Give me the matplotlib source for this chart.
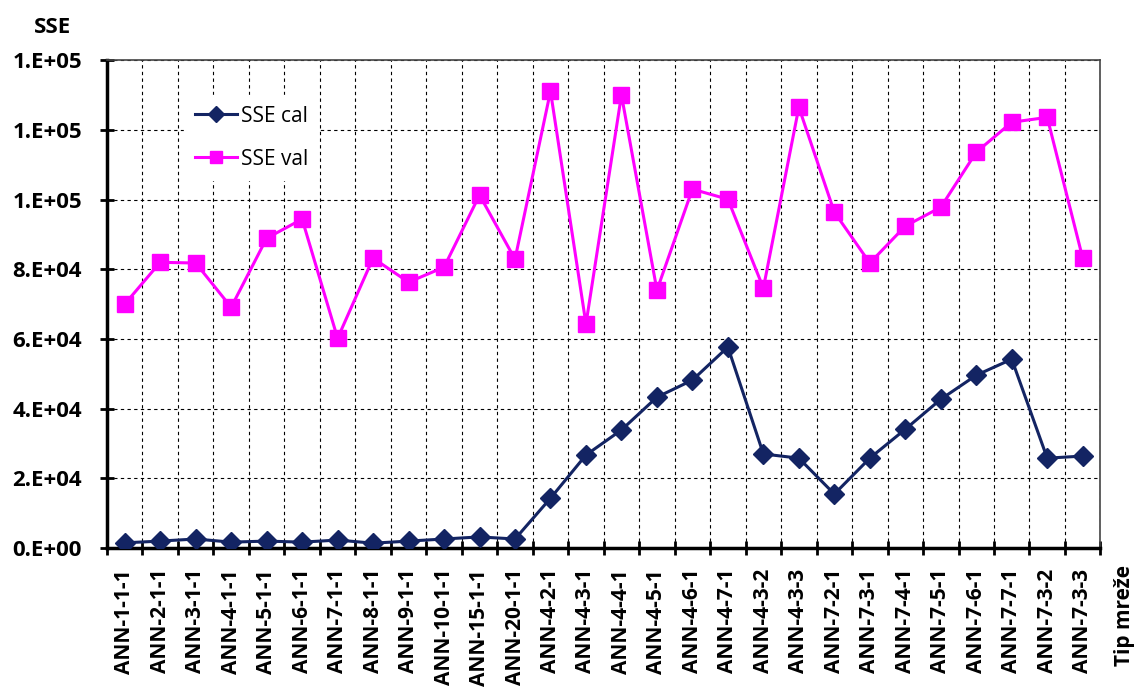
import matplotlib.pyplot as plt
import numpy as np
from matplotlib.ticker import FuncFormatter, FixedLocator

plt.rcParams['font.family'] = ['Open Sans', 'DejaVu Sans']

networks = ['ANN-1-1-1', 'ANN-2-1-1', 'ANN-3-1-1', 'ANN-4-1-1', 'ANN-5-1-1', 'ANN-6-1-1',
            'ANN-7-1-1', 'ANN-8-1-1', 'ANN-9-1-1', 'ANN-10-1-1', 'ANN-15-1-1', 'ANN-20-1-1',
            'ANN-4-2-1', 'ANN-4-3-1', 'ANN-4-4-1', 'ANN-4-5-1', 'ANN-4-6-1', 'ANN-4-7-1',
            'ANN-4-3-2', 'ANN-4-3-3', 'ANN-7-2-1', 'ANN-7-3-1', 'ANN-7-4-1', 'ANN-7-5-1',
            'ANN-7-6-1', 'ANN-7-7-1', 'ANN-7-3-2', 'ANN-7-3-3']

sse_cal = [1500, 2000, 2600, 1700, 2000, 1700, 2300, 1400, 2000, 2600, 3200, 2600,
           14300, 26700, 33900, 43300, 48200, 57700, 27000, 25800, 15500, 25800,
           34100, 42700, 49600, 54200, 25800, 26400]

sse_val = [70000, 82000, 81800, 69100, 88900, 94400, 60200, 83200, 76300, 80600,
           101300, 82900, 131100, 64300, 130000, 74000, 103000, 100100, 74600, 126500,
           96400, 81800, 92400, 97800, 113600, 122200, 123600, 83200]

x = np.arange(len(networks))

fig = plt.figure(figsize=(11.38, 6.92), dpi=100)
ax = fig.add_axes([0.094, 0.208, 0.873, 0.705])

ax.plot(x, sse_cal, color='#132463', lw=2.2, marker='D', ms=10, label='SSE cal', zorder=3)
ax.plot(x, sse_val, color='#ff00ff', lw=2.2, marker='s', ms=11, label='SSE val', zorder=3)

ax.set_xlim(-0.5, len(networks) - 0.5)
ax.set_ylim(0, 140000)
ax.set_yticks(np.arange(0, 140001, 20000))
# Excel-style "0.E+00" labels
ax.yaxis.set_major_formatter(FuncFormatter(lambda v, p: '{:.0E}'.format(v).replace('E', '.E')))

ax.set_xticks(x)
ax.set_xticklabels(networks, rotation=90)
ax.xaxis.set_minor_locator(FixedLocator(np.arange(-0.5, len(networks), 1)))
ax.tick_params(axis='x', which='major', length=0, pad=15)
ax.tick_params(axis='x', which='minor', length=10, width=2, direction='inout')
ax.tick_params(axis='y', which='major', length=10, width=2, direction='inout', pad=13)

for lab in ax.get_xticklabels():
    lab.set_fontsize(15)
    lab.set_fontweight('bold')
for lab in ax.get_yticklabels():
    lab.set_fontsize(16)
    lab.set_fontweight('bold')

ax.grid(True, axis='y', which='major', ls=(0, (3, 3)), color='black', lw=0.8)
ax.grid(True, axis='x', which='minor', ls=(0, (3, 3)), color='black', lw=0.8)

ax.spines['left'].set_linewidth(2.5)
ax.spines['bottom'].set_linewidth(2.5)
ax.spines['top'].set_linewidth(1.2)
ax.spines['right'].set_linewidth(1.2)
ax.spines['top'].set_color('#444444')
ax.spines['right'].set_color('#444444')

leg = ax.legend(loc='upper left', bbox_to_anchor=(0.078, 0.928), frameon=True, fontsize=15,
                handlelength=2.0, labelspacing=1.05, borderpad=0.5, borderaxespad=0,
                markerscale=0.85, handletextpad=0.2)
leg.get_frame().set_edgecolor('white')
leg.get_frame().set_facecolor('white')
leg.get_frame().set_alpha(1)
leg.get_frame().set_boxstyle('square', pad=0)

fig.text(0.0466, 0.952, 'SSE', fontsize=16, fontweight='bold', ha='center', va='baseline')
fig.text(0.997, 0.1835, 'Tip mreže', fontsize=15, fontweight='bold', rotation=90,
         ha='right', va='top')

fig.savefig('out.png', dpi=100)
